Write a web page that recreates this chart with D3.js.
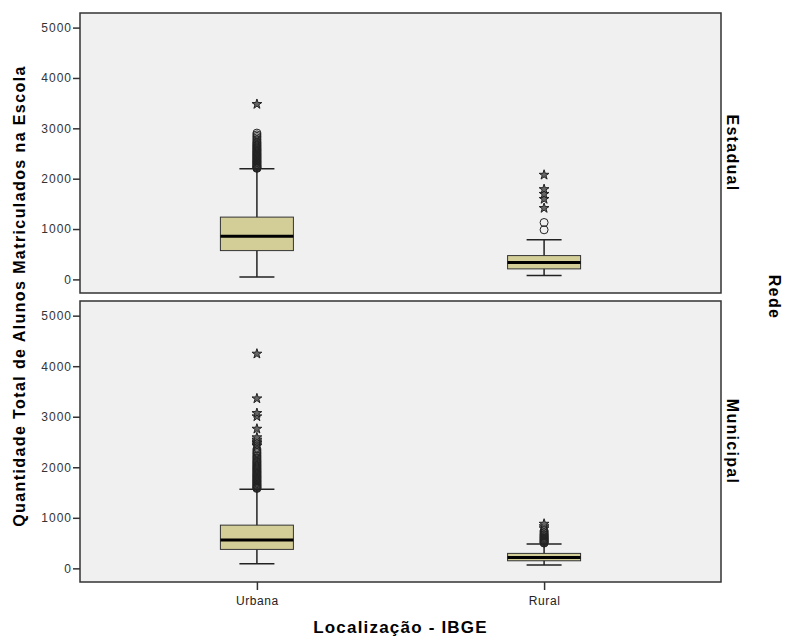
<!DOCTYPE html>
<html>
<head>
<meta charset="utf-8">
<script src="https://cdn.jsdelivr.net/npm/d3@7"></script>
<style>
  body { margin: 0; background: #fff; }
  text { font-family: "Liberation Sans", Arial, sans-serif; }
</style>
</head>
<body>
<div id="chart"></div>
<script>
// categories / facets
const locations = ['Urbana', 'Rural'];
const redes = ['Estadual', 'Municipal'];
const yTicks = [0, 1000, 2000, 3000, 4000, 5000];

// box statistics, one row per rede, one entry per location
const whiskerLow = [[50, 76], [91, 65]];
const q1Values = [[572, 209], [375, 150]];
const medianValues = [[859, 334], [559, 217]];
const q3Values = [[1237, 473], [855, 296]];
const whiskerHigh = [[2197, 785], [1565, 480]];

// outliers (circles) and extremes (stars)
const outliersEstadualUrbana = [2205, 2215, 2225, 2238, 2250, 2262, 2275, 2290, 2305, 2318, 2332, 2345, 2360, 2375, 2390, 2405, 2420, 2436, 2450, 2466, 2480, 2497, 2512, 2528, 2545, 2560, 2578, 2595, 2612, 2630, 2648, 2665, 2685, 2705, 2725, 2750, 2780, 2810, 2840, 2870, 2905];
const extremesEstadualUrbana = [3480];
const outliersEstadualRural = [985, 1130];
const extremesEstadualRural = [1415, 1595, 1695, 1790, 2075];
const outliersMunicipalUrbana = [1580, 1592, 1605, 1618, 1632, 1645, 1660, 1675, 1690, 1705, 1720, 1735, 1750, 1766, 1782, 1798, 1815, 1830, 1846, 1862, 1880, 1897, 1914, 1932, 1950, 1968, 1985, 2003, 2022, 2040, 2060, 2080, 2100, 2120, 2142, 2165, 2190, 2215, 2240, 2268, 2295, 2325, 2360];
const extremesMunicipalUrbana = [2420, 2450, 2480, 2510, 2545, 2590, 2760, 3005, 3070, 3360, 4245];
const outliersMunicipalRural = [500, 512, 525, 538, 550, 563, 577, 590, 604, 618, 632, 648, 664, 680, 700, 722, 745];
const extremesMunicipalRural = [790, 830, 880];

const outliers = [
  [outliersEstadualUrbana, outliersEstadualRural],
  [outliersMunicipalUrbana, outliersMunicipalRural]
];
const extremes = [
  [extremesEstadualUrbana, extremesEstadualRural],
  [extremesMunicipalUrbana, extremesMunicipalRural]
];

const width = 786, height = 639;
const left = 80, right = 721;
const panels = [{ top: 13, bottom: 293 }, { top: 301, bottom: 582 }];
const boxWidth = 73;
const capWidth = 35;

const svg = d3.select('#chart').append('svg')
  .attr('width', width)
  .attr('height', height);

const x = d3.scalePoint()
  .domain(locations)
  .range([left, right])
  .padding(0.616);

redes.forEach((rede, r) => {
  const p = panels[r];
  const y = d3.scaleLinear().domain([-270, 5290]).range([p.bottom, p.top]);
  const g = svg.append('g');

  g.append('rect')
    .attr('x', left)
    .attr('y', p.top)
    .attr('width', right - left)
    .attr('height', p.bottom - p.top)
    .attr('fill', '#f0f0f0')
    .attr('stroke', '#333')
    .attr('stroke-width', 1.5);

  const yAxis = g.append('g')
    .attr('transform', `translate(${left},0)`)
    .call(d3.axisLeft(y).tickValues(yTicks).tickFormat(d3.format('d')).tickSize(7).tickPadding(1));
  yAxis.select('.domain').remove();
  yAxis.selectAll('line').attr('stroke', '#333').attr('stroke-width', 1.5);
  yAxis.selectAll('text')
    .attr('font-size', 12)
    .attr('fill', '#333')
    .style('letter-spacing', '1px');

  locations.forEach((loc, i) => {
    const cx = x(loc);
    const bg = g.append('g');

    bg.append('line')
      .attr('x1', cx).attr('x2', cx)
      .attr('y1', y(whiskerLow[r][i])).attr('y2', y(whiskerHigh[r][i]))
      .attr('stroke', '#222').attr('stroke-width', 1.5);

    [whiskerLow[r][i], whiskerHigh[r][i]].forEach(v => {
      bg.append('line')
        .attr('x1', cx - capWidth / 2).attr('x2', cx + capWidth / 2)
        .attr('y1', y(v)).attr('y2', y(v))
        .attr('stroke', '#222').attr('stroke-width', 1.5);
    });

    bg.append('rect')
      .attr('x', cx - boxWidth / 2)
      .attr('y', y(q3Values[r][i]))
      .attr('width', boxWidth)
      .attr('height', y(q1Values[r][i]) - y(q3Values[r][i]))
      .attr('fill', '#d3ce97')
      .attr('stroke', '#333')
      .attr('stroke-width', 1);

    bg.append('line')
      .attr('x1', cx - boxWidth / 2).attr('x2', cx + boxWidth / 2)
      .attr('y1', y(medianValues[r][i])).attr('y2', y(medianValues[r][i]))
      .attr('stroke', '#000').attr('stroke-width', 3);

    bg.selectAll('circle.out')
      .data(outliers[r][i])
      .join('circle')
      .attr('class', 'out')
      .attr('cx', cx)
      .attr('cy', d => y(d))
      .attr('r', 4)
      .attr('fill', 'none')
      .attr('stroke', '#222')
      .attr('stroke-width', 1);

    bg.selectAll('path.ext')
      .data(extremes[r][i])
      .join('path')
      .attr('class', 'ext')
      .attr('transform', d => `translate(${cx},${y(d)})`)
      .attr('d', d3.symbol(d3.symbolStar, 30))
      .attr('fill', '#666')
      .attr('stroke', '#222')
      .attr('stroke-width', 1);
  });

  // facet label
  svg.append('text')
    .attr('transform', `translate(733,${(p.top + p.bottom) / 2}) rotate(90)`)
    .attr('text-anchor', 'middle')
    .attr('dy', '0.35em')
    .attr('font-size', 16)
    .attr('font-weight', 'bold')
    .style('letter-spacing', '1.3px')
    .text(rede);
});

const xAxis = svg.append('g')
  .attr('transform', `translate(0,${panels[1].bottom})`)
  .call(d3.axisBottom(x).tickSize(8).tickPadding(6));
xAxis.select('.domain').remove();
xAxis.selectAll('line').attr('stroke', '#333').attr('stroke-width', 1.5);
xAxis.selectAll('text')
  .attr('font-size', 12)
  .attr('fill', '#222')
  .style('letter-spacing', '0.6px');

svg.append('text')
  .attr('x', (left + right) / 2)
  .attr('y', 633)
  .attr('text-anchor', 'middle')
  .attr('font-size', 17)
  .attr('font-weight', 'bold')
  .style('letter-spacing', '1.2px')
  .text('Localização - IBGE');

svg.append('text')
  .attr('transform', 'translate(25,296) rotate(-90)')
  .attr('text-anchor', 'middle')
  .attr('font-size', 16)
  .attr('font-weight', 'bold')
  .style('letter-spacing', '1.4px')
  .text('Quantidade Total de Alunos Matriculados na Escola');

svg.append('text')
  .attr('transform', 'translate(775,297) rotate(90)')
  .attr('text-anchor', 'middle')
  .attr('dy', '0.35em')
  .attr('font-size', 16)
  .attr('font-weight', 'bold')
  .style('letter-spacing', '1.4px')
  .text('Rede');
</script>
</body>
</html>
